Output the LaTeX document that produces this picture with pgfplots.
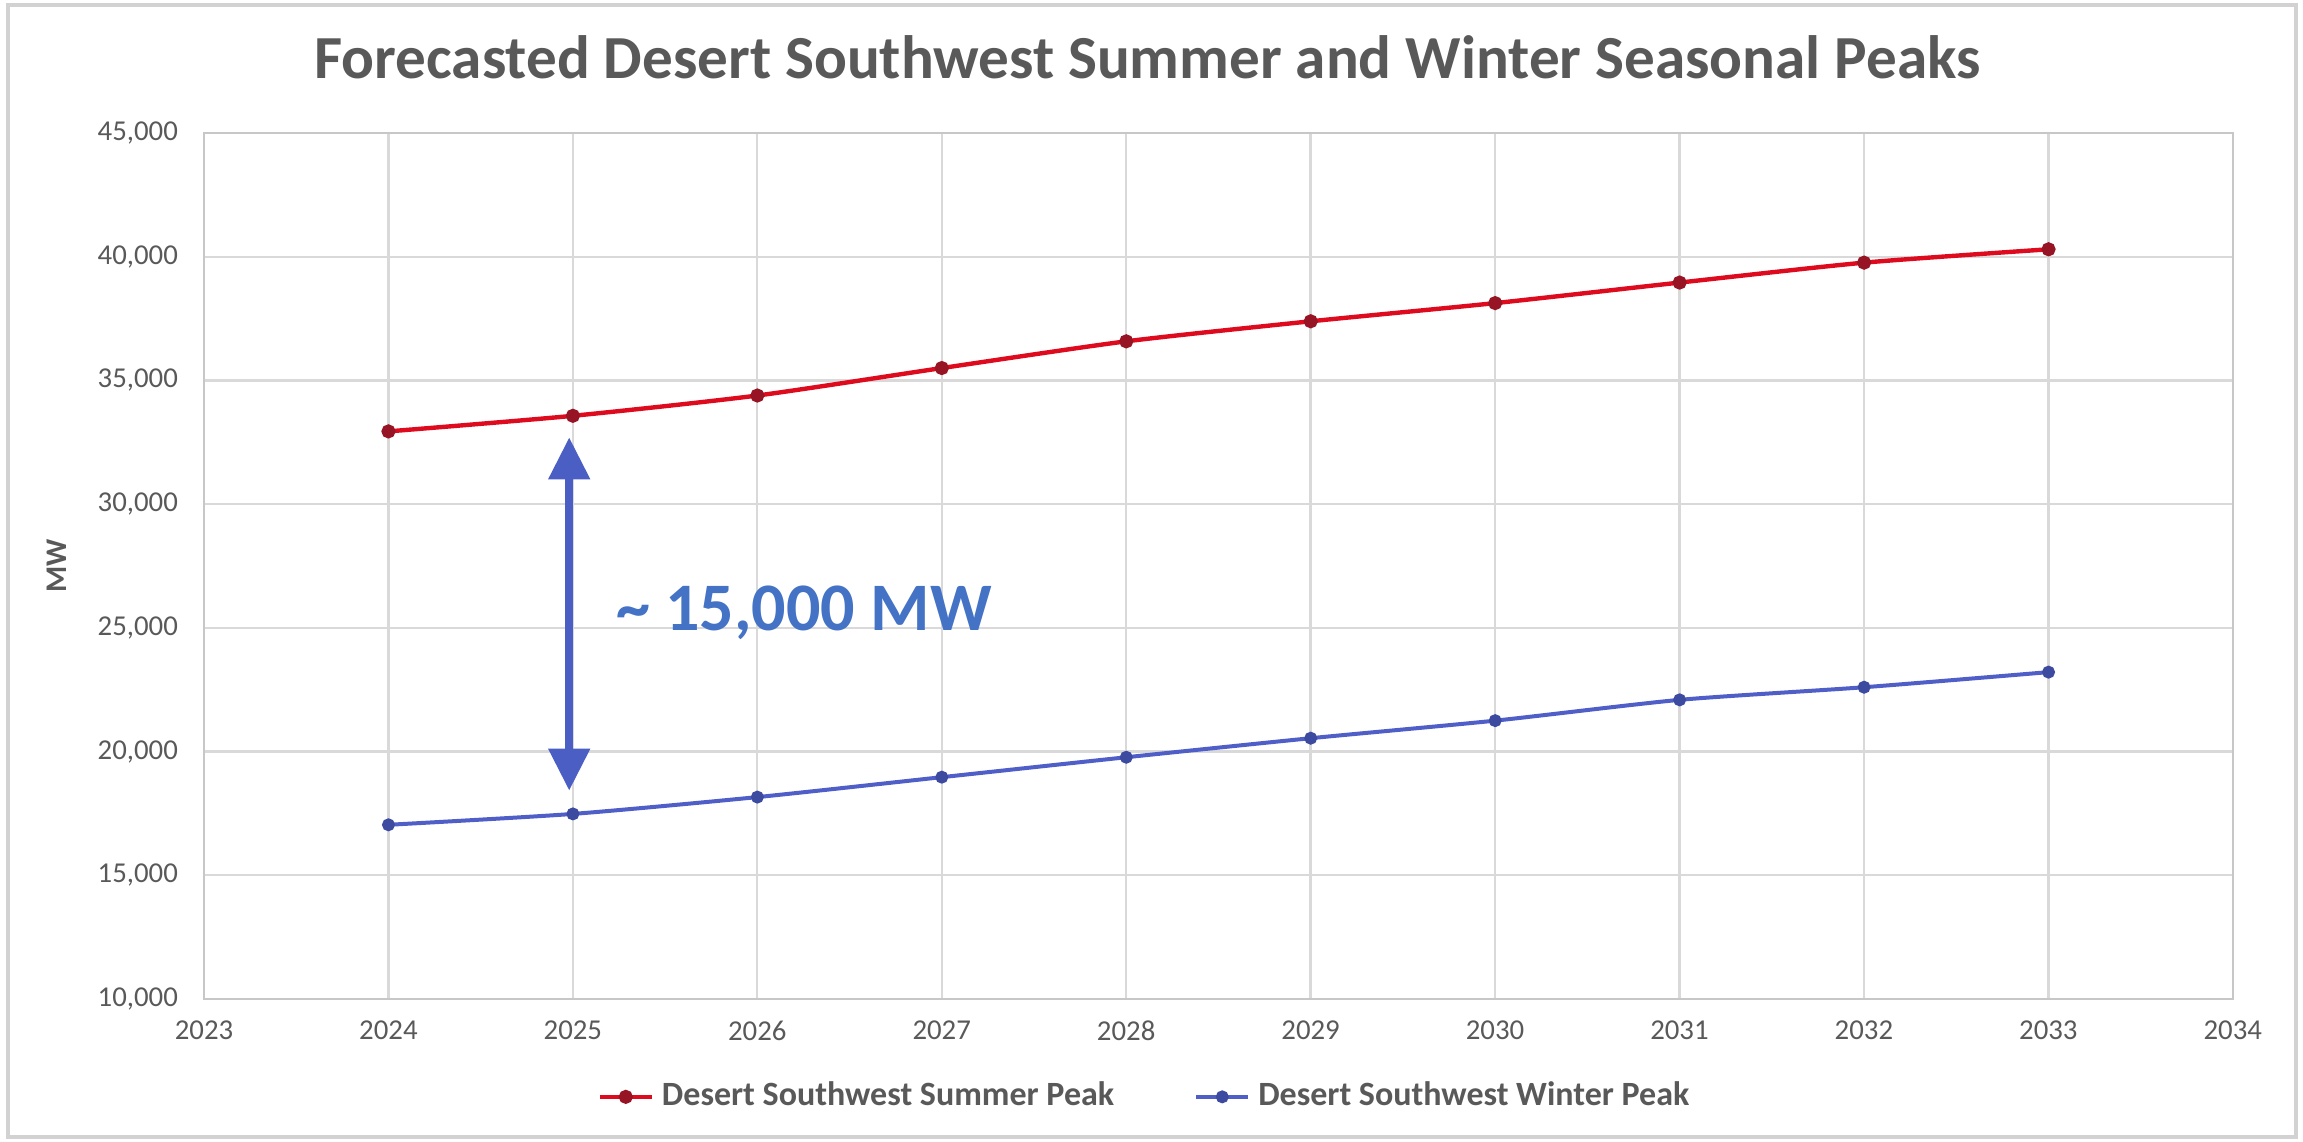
\documentclass[border=0pt]{standalone}
\usepackage{fontspec}
\setmainfont{Carlito}
\usepackage{pgfplots}
\pgfplotsset{compat=1.18}
\usetikzlibrary{arrows.meta}

\definecolor{txtgray}{RGB}{89,89,89}
\definecolor{gridgray}{RGB}{217,217,217}
\definecolor{summerred}{RGB}{222,10,30}
\definecolor{summermark}{RGB}{150,20,35}
\definecolor{winterblue}{RGB}{80,95,200}
\definecolor{wintermark}{RGB}{60,75,160}
\definecolor{arrowblue}{RGB}{74,94,196}
\definecolor{notetext}{RGB}{68,114,196}

\begin{document}
\begin{tikzpicture}
\path[use as bounding box] (-51pt,-35.75pt) rectangle (524.75pt,249.75pt);
\draw[gray!35, line width=0.8pt] (-49pt,-34.5pt) rectangle (523pt,248.5pt);
\begin{axis}[
  at={(0,0)}, anchor=south west,
  scale only axis,
  width=507.25pt, height=216.5pt,
  xmin=2023, xmax=2034,
  ymin=10000, ymax=45000,
  xtick={2023,...,2034},
  ytick={10000,15000,...,45000},
  scaled y ticks=false,
  grid=major,
  major grid style={gridgray, line width=0.6pt},
  axis line style={gridgray!80!gray, line width=0.6pt},
  tick style={draw=none},
  /pgf/number format/assume math mode=true,
  ticklabel style={font=\fontsize{7.2}{8}\selectfont, text=txtgray},
  yticklabel style={/pgf/number format/fixed, /pgf/number format/1000 sep={,}, xshift=-3pt},
  xticklabel style={/pgf/number format/1000 sep={}, yshift=-2pt},
  ylabel={\textbf{MW}},
  ylabel style={font=\fontsize{7.5}{9}\selectfont, text=txtgray, yshift=1pt},
  title={\textbf{Forecasted Desert Southwest Summer and Winter Seasonal Peaks}},
  title style={font=\fontsize{15.3}{17}\selectfont, text=txtgray, at={(0.465,1.0)}, yshift=4pt},
  legend columns=2,
  legend style={at={(0.465,-0.113)}, anchor=center, draw=none, fill=none,
    font=\bfseries\fontsize{8.5}{10}\selectfont, text=txtgray,
    /tikz/every even column/.append style={column sep=18pt}},
  legend image code/.code={\draw[mark repeat=2,mark phase=2] plot coordinates {(0pt,0pt) (6.5pt,0pt) (13pt,0pt)};},
]
\addplot[summerred, line width=1.1pt, smooth, tension=0.4, mark=*, mark size=1.2pt,
  mark options={fill=summermark, draw=summermark}] coordinates {
  (2024,32940) (2025,33570) (2026,34390) (2027,35500) (2028,36580)
  (2029,37390) (2030,38125) (2031,38955) (2032,39760) (2033,40300)
};
\addlegendentry{Desert Southwest Summer Peak}
\addplot[winterblue, line width=1pt, smooth, tension=0.4, mark=*, mark size=1.1pt,
  mark options={fill=wintermark, draw=wintermark}] coordinates {
  (2024,17040) (2025,17480) (2026,18160) (2027,18965) (2028,19770)
  (2029,20540) (2030,21250) (2031,22090) (2032,22600) (2033,23210)
};
\addlegendentry{Desert Southwest Winter Peak}

\draw[arrowblue, line width=2pt, {Triangle[width=10pt,length=10.5pt]}-{Triangle[width=10pt,length=10.5pt]}]
  (axis cs:2024.98,18420) -- (axis cs:2024.98,32700);
\node[anchor=west, text=notetext, font=\bfseries\fontsize{17}{20}\selectfont, inner sep=0pt]
  at (axis cs:2025.23,25600) {\textasciitilde{} 15,000 MW};
\end{axis}
\end{tikzpicture}
\end{document}
